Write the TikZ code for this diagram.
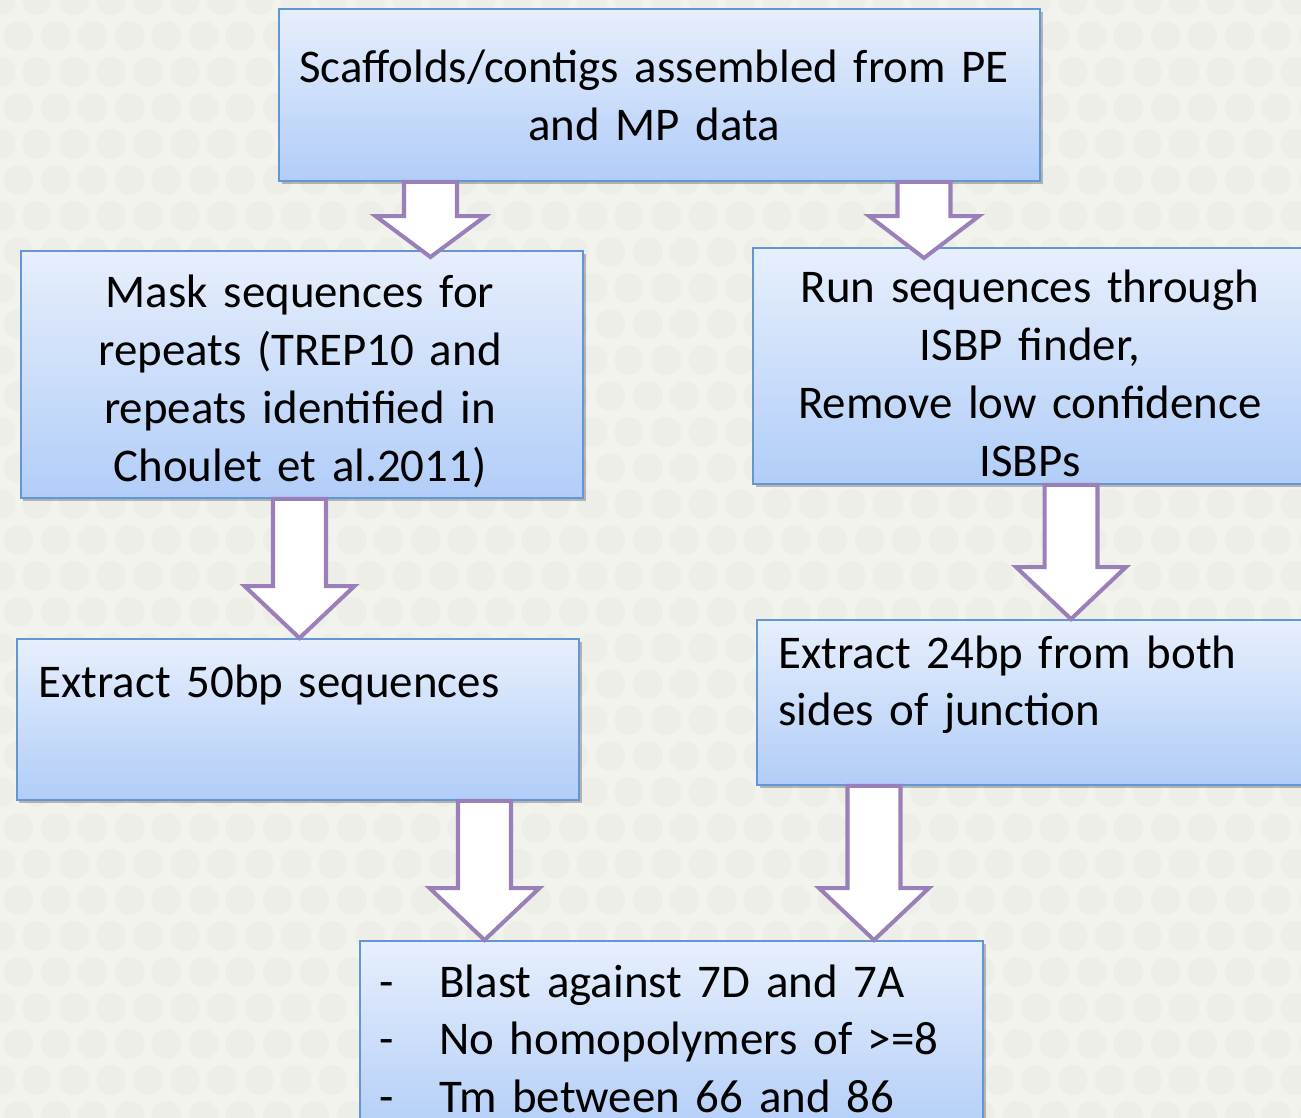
\documentclass[tikz,border=0pt]{standalone}
\usepackage{fontspec}
\setmainfont{Carlito}
\usepackage{tikz}
\usetikzlibrary{
  calc,%
  fit,%
  % soft shadow below the boxes
  shadows
}
\definecolor{bgcol}{HTML}{F3F3EE}
\definecolor{dotcol}{HTML}{EEEEE8}
\definecolor{boxtop}{HTML}{E7EFFC}
\definecolor{boxbot}{HTML}{B1CDF8}
\definecolor{boxline}{HTML}{6396D4}
\definecolor{arrowpurple}{HTML}{9980B8}
\tikzset{
  box/.style={draw=boxline, line width=1.1pt, top color=boxtop, bottom color=boxbot,
    inner sep=0pt, fit={#1},
    drop shadow={shadow xshift=0.05cm, shadow yshift=-0.06cm, fill=black, opacity=0.25}},
  txt/.style={font=\fontsize{26.7}{33}\selectfont, inner sep=0pt, text width=#1,
    align=center, anchor=base},
  ltxt/.style={font=\fontsize{26.7}{33}\selectfont, inner sep=0pt, text width=#1,
    align=left, anchor=base west},
  head len/.store in=\headlen, head len=1.04cm,
  tip over/.store in=\tipover, tip over=0cm,
  bigarrow/.style={draw=arrowpurple, line width=2.3pt, fill=white, line join=miter,
    to path={let \p1=(\tikztostart), \p2=(\tikztotarget) in
      (\x1-0.53cm,\y1) -- (\x1+0.53cm,\y1) -- (\x1+0.53cm,\y2-\tipover+\headlen)
      -- (\x1+1.1cm,\y2-\tipover+\headlen) -- (\x1,\y2-\tipover)
      -- (\x1-1.1cm,\y2-\tipover+\headlen) -- (\x1-0.53cm,\y2-\tipover+\headlen)
      -- cycle}}
}

\begin{document}
\begin{tikzpicture}[x=0.02cm, y=-0.02cm]
  \useasboundingbox (0,0) rectangle (1301,1118);
  \clip (0,0) rectangle (1301,1118);
  \fill[bgcol] (0,0) rectangle (1301,1118);
  % faint dotted backdrop
  \foreach \i in {0,...,35}
    \foreach \j in {0,...,31}
      \fill[dotcol] ({\i*37+mod(\j,2)*18.5},{\j*36}) circle (0.3cm);

  % boxes
  \node[box={(279,9) (1040,181)}] (top) {};
  \node[box={(21,251) (583,498)}] (mask) {};
  \node[box={(753,248) (1310,484)}] (run) {};
  \node[box={(17,639) (579,800)}] (ext50) {};
  \node[box={(757,620) (1310,785)}] (ext24) {};
  \node[box={(360,941) (983,1140)}] (filter) {};

  % texts
  \node[txt=15cm] (toptxt) at (654,83) {Scaffolds/contigs assembled from PE\\and MP data};
  \node[txt=10cm] (masktxt) at (300,308) {Mask sequences for\\repeats (TREP10 and\\repeats identified in\\ Choulet et al.2011)};
  \node[txt=10cm] (runtxt) at (1030,303) {Run sequences through\\ISBP finder,\\Remove low confidence\\ISBPs};
  \node[ltxt=10cm] (ext50txt) at (38,697) {Extract 50bp sequences};
  \node[ltxt=10cm] (ext24txt) at (778,668) {Extract 24bp from both\\sides of junction};
  \node[ltxt=14cm] (filtertxt) at (379,997) {\makebox[1.2cm][l]{-}Blast against 7D and 7A\\
    \makebox[1.2cm][l]{-}No homopolymers of >=8\\
    \makebox[1.2cm][l]{-}Tm between 66 and 86};

  % block arrows
  \draw[bigarrow, head len=0.82cm, tip over=0.14cm] (top.south -| 430.5,0) to (mask.north -| 430.5,0);
  \draw[bigarrow, head len=0.84cm, tip over=0.22cm] (top.south -| 924,0) to (run.north -| 924,0);
  \draw[bigarrow] (mask.south -| 299.5,0) to (ext50.north -| 299.5,0);
  \draw[bigarrow] (run.south -| 1071,0) to (ext24.north -| 1071,0);
  \draw[bigarrow] (ext50.south -| 484.5,0) to (filter.north -| 484.5,0);
  \draw[bigarrow] (ext24.south -| 874,0) to (filter.north -| 874,0);
\end{tikzpicture}
\end{document}
